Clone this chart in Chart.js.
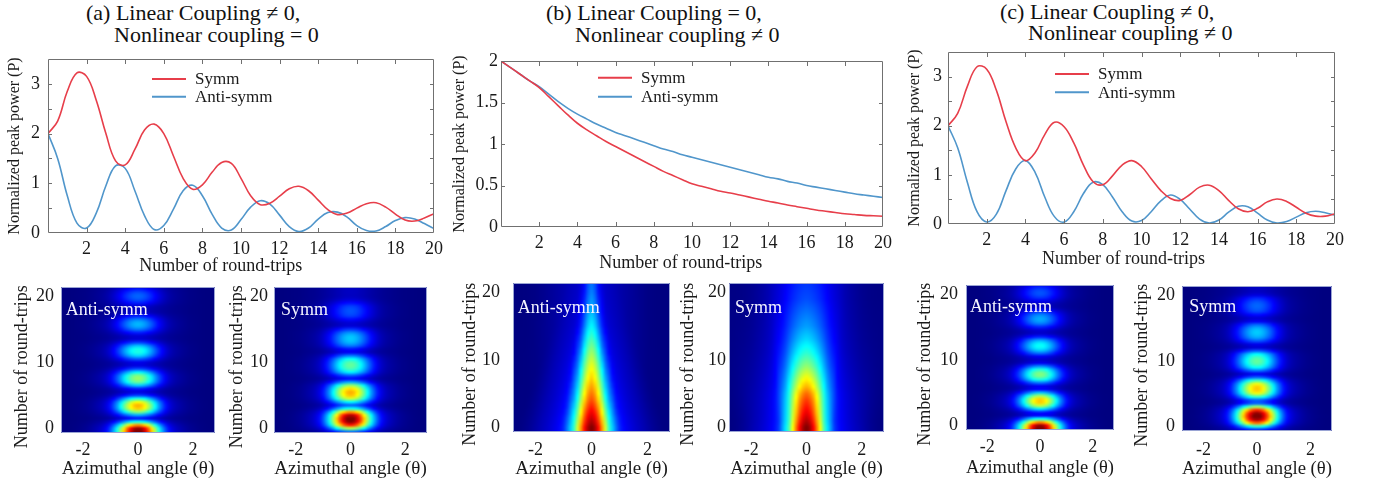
<!DOCTYPE html>
<html>
<head>
<meta charset="utf-8">
<script src="https://cdn.jsdelivr.net/npm/chart.js@4.4.0/dist/chart.umd.min.js"></script>
<style>
body{margin:0;background:#fff;width:1385px;height:487px;position:relative;overflow:hidden;font-family:"Liberation Serif","Times New Roman",serif;}
.box{position:absolute;}
.ttl{position:absolute;font-size:22px;line-height:22px;white-space:pre;color:#111;}
</style>
</head>
<body>
<div class="ttl" style="left:86px;top:2px">(a) Linear Coupling ≠ 0,</div>
<div class="ttl" style="left:114px;top:24px">Nonlinear coupling = 0</div>
<div class="ttl" style="left:546px;top:2px">(b) Linear Coupling = 0,</div>
<div class="ttl" style="left:575px;top:24px">Nonlinear coupling ≠ 0</div>
<div class="ttl" style="left:1000px;top:1px">(c) Linear Coupling ≠ 0,</div>
<div class="ttl" style="left:1028px;top:22px">Nonlinear coupling ≠ 0</div>

<div class="box" style="left:0px;top:40px;width:454px;height:237px"><canvas id="lineA"></canvas></div>
<div class="box" style="left:440px;top:40px;width:463px;height:234px"><canvas id="lineB"></canvas></div>
<div class="box" style="left:900px;top:35px;width:460px;height:235px"><canvas id="lineC"></canvas></div>

<div class="box" style="left:0px;top:261px;width:230px;height:219px"><canvas id="mapA1"></canvas></div>
<div class="box" style="left:220px;top:261px;width:222px;height:219px"><canvas id="mapA2"></canvas></div>
<div class="box" style="left:450px;top:257px;width:235px;height:223px"><canvas id="mapB1"></canvas></div>
<div class="box" style="left:672px;top:257px;width:227px;height:223px"><canvas id="mapB2"></canvas></div>
<div class="box" style="left:905px;top:259px;width:224px;height:220px"><canvas id="mapC1"></canvas></div>
<div class="box" style="left:1125px;top:260px;width:222px;height:220px"><canvas id="mapC2"></canvas></div>

<script>
// ---- peak power curves ----
const roundTrips = [0,0.5,1,1.5,2,2.5,3,3.5,4,4.5,5,5.5,6,6.5,7,7.5,8,8.5,9,9.5,10,10.5,11,11.5,12,12.5,13,13.5,14,14.5,15,15.5,16,16.5,17,17.5,18,18.5,19,19.5,20];
const symmA = [2.00,2.25,2.85,3.22,3.15,2.67,2.00,1.45,1.37,1.68,2.07,2.19,2.00,1.55,1.10,0.88,0.97,1.22,1.42,1.40,1.10,0.75,0.57,0.60,0.74,0.89,0.94,0.85,0.66,0.47,0.37,0.40,0.50,0.59,0.61,0.52,0.38,0.26,0.24,0.30,0.39];
const antiA = [2.0,1.5,0.75,0.2,0.1,0.4,0.95,1.35,1.3,0.85,0.35,0.07,0.15,0.48,0.85,0.96,0.75,0.38,0.1,0.06,0.27,0.52,0.65,0.58,0.36,0.13,0.03,0.1,0.28,0.41,0.42,0.32,0.15,0.05,0.04,0.13,0.25,0.31,0.28,0.19,0.09];
const symmB = [2.0,1.92,1.84,1.76,1.68,1.57,1.46,1.35,1.25,1.17,1.1,1.03,0.97,0.91,0.85,0.79,0.73,0.67,0.62,0.57,0.52,0.49,0.46,0.43,0.41,0.385,0.36,0.335,0.31,0.29,0.265,0.245,0.225,0.205,0.19,0.175,0.16,0.15,0.14,0.135,0.13];
const antiB = [2.0,1.92,1.84,1.76,1.69,1.6,1.51,1.43,1.36,1.3,1.24,1.19,1.14,1.1,1.06,1.02,0.98,0.94,0.91,0.87,0.84,0.81,0.78,0.75,0.72,0.69,0.66,0.63,0.6,0.58,0.55,0.53,0.5,0.48,0.46,0.44,0.42,0.4,0.385,0.37,0.355];
const symmC = [2.0,2.25,2.8,3.2,3.15,2.72,2.08,1.55,1.29,1.45,1.82,2.07,1.98,1.65,1.2,0.86,0.8,0.98,1.2,1.29,1.17,0.92,0.68,0.52,0.48,0.6,0.75,0.79,0.68,0.48,0.31,0.25,0.32,0.45,0.51,0.46,0.34,0.22,0.16,0.16,0.21];
const antiC = [2.0,1.55,0.85,0.25,0.04,0.2,0.68,1.12,1.29,1.05,0.55,0.15,0.04,0.25,0.62,0.85,0.8,0.55,0.25,0.06,0.07,0.25,0.47,0.59,0.5,0.3,0.1,0.02,0.08,0.24,0.36,0.35,0.22,0.08,0.02,0.05,0.14,0.23,0.26,0.23,0.18];

const seriesNames = ['Symm', 'Anti-symm'];
const tripTicksX = [0,2,4,6,8,10,12,14,16,18,20];
const powerTicksAC = [0,0.5,1,1.5,2,2.5,3,3.5];
const powerTicksB = [0,0.5,1,1.5,2];
const xTitle = 'Number of round-trips';
const yTitle = 'Normalized peak power (P)';

// ---- intensity maps (bottom row) ----
const mapRows = [-0.5,0,0.5,1,1.5,2,2.5,3,3.5,4,4.5,5,5.5,6,6.5,7,7.5,8,8.5,9,9.5,10,10.5,11,11.5,12,12.5,13,13.5,14,14.5,15,15.5,16,16.5,17,17.5,18,18.5,19,19.5,20,20.5,21,21.5];
const mapCols = [-2.75,-2.625,-2.5,-2.375,-2.25,-2.125,-2,-1.875,-1.75,-1.625,-1.5,-1.375,-1.25,-1.125,-1,-0.875,-0.75,-0.625,-0.5,-0.375,-0.25,-0.125,0,0.125,0.25,0.375,0.5,0.625,0.75,0.875,1,1.125,1.25,1.375,1.5,1.625,1.75,1.875,2,2.125,2.25,2.375,2.5,2.625,2.75];
const angleTicks = [-2,0,2];
const tripTicksY = [0,10,20];

// colour level of the core at theta = 0, one value per row
const heatA_anti = [1.0,0.95,0.71,0.37,0.12,0.27,0.49,0.65,0.675,0.59,0.38,0.16,0.07,0.13,0.3,0.45,0.5,0.47,0.34,0.17,0.07,0.08,0.19,0.31,0.375,0.37,0.29,0.16,0.06,0.06,0.13,0.22,0.275,0.275,0.22,0.13,0.05,0.04,0.06,0.13,0.18,0.2,0.18,0.13,0.06];
const heatA_symm = [0.22,0.53,0.83,0.97,0.995,0.92,0.7,0.37,0.2,0.35,0.56,0.66,0.68,0.63,0.5,0.27,0.11,0.19,0.34,0.42,0.45,0.43,0.36,0.22,0.09,0.12,0.22,0.28,0.3,0.29,0.24,0.15,0.06,0.06,0.11,0.16,0.18,0.18,0.16,0.11,0.06,0.04,0.04,0.04,0.04];
const heatB_anti = [0.94,0.94,0.915,0.89,0.865,0.84,0.815,0.79,0.765,0.74,0.72,0.7,0.68,0.66,0.64,0.62,0.6,0.585,0.565,0.55,0.53,0.51,0.49,0.47,0.45,0.43,0.41,0.39,0.37,0.35,0.33,0.31,0.295,0.28,0.265,0.25,0.24,0.23,0.22,0.21,0.2,0.19,0.185,0.18,0.175];
const heatB_symm = [0.93,0.93,0.905,0.88,0.855,0.83,0.81,0.79,0.77,0.75,0.725,0.7,0.665,0.63,0.6,0.57,0.54,0.51,0.48,0.45,0.425,0.4,0.375,0.35,0.33,0.31,0.29,0.27,0.255,0.24,0.225,0.21,0.2,0.19,0.18,0.17,0.16,0.15,0.14,0.13,0.125,0.12,0.115,0.11,0.105];
const heatC_anti = [1.0,0.95,0.71,0.37,0.1,0.13,0.33,0.54,0.65,0.645,0.51,0.29,0.1,0.09,0.22,0.38,0.47,0.47,0.39,0.24,0.085,0.05,0.09,0.21,0.31,0.36,0.34,0.26,0.13,0.05,0.06,0.135,0.22,0.265,0.26,0.21,0.12,0.045,0.045,0.09,0.15,0.18,0.175,0.14,0.08];
const heatC_symm = [0.15,0.4,0.74,0.93,1.0,0.96,0.81,0.5,0.2,0.2,0.4,0.58,0.65,0.65,0.58,0.41,0.19,0.09,0.22,0.36,0.43,0.45,0.42,0.35,0.19,0.06,0.08,0.18,0.26,0.295,0.3,0.27,0.2,0.09,0.06,0.11,0.17,0.195,0.2,0.18,0.14,0.07,0.04,0.04,0.04];
// core width per row for (b)
const widthB_anti = [0.95,0.95,0.94,0.93,0.92,0.9,0.89,0.87,0.86,0.84,0.83,0.81,0.8,0.78,0.77,0.75,0.74,0.72,0.71,0.69,0.68,0.66,0.65,0.63,0.62,0.6,0.59,0.57,0.56,0.54,0.53,0.51,0.5,0.49,0.48,0.47,0.46,0.45,0.44,0.43,0.42,0.41,0.4,0.4,0.4];
const widthB_symm = [1,1,1,1,1.01,1.02,1.03,1.04,1.05,1.06,1.07,1.08,1.09,1.1,1.11,1.12,1.13,1.14,1.15,1.16,1.17,1.18,1.19,1.2,1.21,1.22,1.23,1.24,1.25,1.26,1.27,1.28,1.29,1.3,1.31,1.32,1.33,1.34,1.35,1.36,1.37,1.38,1.39,1.4,1.4];
// broad pedestal level per row for (b)
const pedestalB_anti = [0.06,0.06,0.06,0.06,0.06,0.06,0.06,0.06,0.06,0.06,0.06,0.06,0.06,0.06,0.06,0.06,0.06,0.06,0.06,0.06,0.06,0.06,0.06,0.06,0.06,0.06,0.06,0.06,0.06,0.06,0.06,0.06,0.06,0.06,0.06,0.06,0.06,0.06,0.06,0.06,0.06,0.06,0.06,0.06,0.06];
const pedestalB_symm = [0.07,0.07,0.07,0.07,0.07,0.07,0.07,0.07,0.07,0.07,0.07,0.07,0.07,0.07,0.07,0.07,0.07,0.07,0.07,0.07,0.07,0.07,0.07,0.07,0.07,0.07,0.07,0.07,0.07,0.07,0.07,0.07,0.07,0.07,0.07,0.07,0.07,0.07,0.07,0.07,0.07,0.07,0.07,0.07,0.07];
const pedestalAC = [1,1,1,1,1,1,1,1,1,1,1,1,1,1,1,1,1,1,1,1,1,1,1,1,1,1,1,1,1,1,1,1,1,1,1,1,1,1,1,1,1,1,1,1,1];
// angular fall-off of the core and of the pedestal, by |theta| step
const profileAC = [1,0.974,0.9,0.79,0.66,0.52,0.39,0.28,0.19,0.125,0.085,0.06,0.045,0.033,0.024,0.017,0.012,0.008,0.005,0.003,0.002,0.001,0];
const profileB = [1.0,0.96,0.87,0.74,0.59,0.43,0.32,0.24,0.15,0.11,0.09,0.078,0.068,0.06,0.053,0.047,0.04,0.032,0.024,0.017,0.011,0.006,0.003];
const haloAC = [0.025,0.025,0.025,0.024,0.024,0.023,0.022,0.021,0.019,0.017,0.015,0.013,0.011,0.009,0.007,0.005,0.004,0.003,0.002,0.001,0,0,0];
const haloB = [1,1,0.98,0.95,0.92,0.87,0.82,0.76,0.69,0.62,0.54,0.46,0.38,0.3,0.23,0.16,0.1,0.06,0.03,0.01,0,0,0];

const serif = '"Liberation Serif", "Times New Roman", serif';
const ink = '#1a1a1a';
const redLine = 'rgb(231,62,74)';
const blueLine = 'rgb(80,150,203)';

function jet(v){
    v = Math.max(0, Math.min(1, v));
    const c = t => Math.round(255 * Math.max(0, Math.min(1, t)));
    return [c(1.5 - Math.abs(4*v - 3)), c(1.5 - Math.abs(4*v - 2)), c(1.5 - Math.abs(4*v - 1))];
}

// read a fall-off table at a fractional step
function sampleAt(table, t){
    const last = table.length - 1;
    if (t >= last) return table[last];
    const j = Math.floor(t), f = t - j;
    return table[j] * (1 - f) + table[j + 1] * f;
}

const framePlugin = {
    id: 'frame',
    afterDatasetsDraw(chart, args, o){
        const ctx = chart.ctx, a = chart.chartArea, x = chart.scales.x, y = chart.scales.y;
        ctx.save();
        ctx.strokeStyle = o.color;
        ctx.lineWidth = 1;
        ctx.beginPath();
        if (o.ticks){
            x.ticks.forEach(t => {
                if (t.value <= x.min || t.value >= x.max) return;
                const px = Math.round(x.getPixelForValue(t.value)) + 0.5;
                ctx.moveTo(px, a.bottom); ctx.lineTo(px, a.bottom - 5);
                ctx.moveTo(px, a.top); ctx.lineTo(px, a.top + 5);
            });
            y.ticks.forEach(t => {
                if (t.value <= y.min || t.value >= y.max) return;
                const py = Math.round(y.getPixelForValue(t.value)) + 0.5;
                ctx.moveTo(a.left, py); ctx.lineTo(a.left + 4, py);
                ctx.moveTo(a.right, py); ctx.lineTo(a.right - 4, py);
            });
        }
        ctx.rect(Math.round(a.left) + 0.5, Math.round(a.top) + 0.5, Math.round(a.width) - 1, Math.round(a.height) - 1);
        ctx.stroke();
        ctx.restore();
    }
};

const legendPlugin = {
    id: 'boxLegend',
    afterDatasetsDraw(chart, args, o){
        const ctx = chart.ctx, a = chart.chartArea;
        ctx.save();
        ctx.font = '17px ' + serif;
        ctx.textBaseline = 'middle';
        chart.data.datasets.forEach((ds, i) => {
            const y = a.top + o.dy + i * o.gap;
            const x = a.left + o.dx;
            ctx.strokeStyle = ds.borderColor;
            ctx.lineWidth = 2;
            ctx.beginPath(); ctx.moveTo(x, y); ctx.lineTo(x + 34, y); ctx.stroke();
            ctx.fillStyle = ink;
            ctx.fillText(ds.label, x + 43, y + 1);
        });
        ctx.restore();
    }
};

function points(vals){
    return roundTrips.map((x, i) => ({x: x, y: vals[i]}));
}

function lineChart(id, symm, anti, cfg){
    new Chart(id, {
        type: 'line',
        data: {
            datasets: [
                {label: seriesNames[0], data: points(symm), borderColor: redLine},
                {label: seriesNames[1], data: points(anti), borderColor: blueLine}
            ]
        },
        options: {
            responsive: true, maintainAspectRatio: false, animation: false,
            layout: {padding: {top: cfg.padTop, right: cfg.padRight, left: 0, bottom: 0}},
            elements: {point: {radius: 0}, line: {borderWidth: 1.6, tension: 0.4, fill: false}},
            plugins: {
                legend: {display: false}, tooltip: {enabled: false},
                frame: {color: '#707070', ticks: true},
                boxLegend: cfg.legend
            },
            scales: {
                x: {
                    type: 'linear', min: 0, max: 20,
                    grid: {display: false, drawTicks: false}, border: {display: false},
                    afterBuildTicks: s => { s.ticks = tripTicksX.map(v => ({value: v})); },
                    afterFit: s => { s.height = cfg.xh; },
                    ticks: {padding: 5, color: ink, autoSkip: false, maxRotation: 0, font: {family: serif, size: 18},
                            callback: v => v === 0 ? '' : String(v)},
                    title: {display: true, text: xTitle + ' '.repeat(cfg.xShift), color: ink,
                            font: {family: serif, size: 18}, padding: {top: 0, bottom: 0}}
                },
                y: {
                    type: 'linear', min: 0, max: cfg.yMax,
                    grid: {display: false, drawTicks: false}, border: {display: false},
                    afterBuildTicks: s => { s.ticks = cfg.yTicks.map(v => ({value: v})); },
                    afterFit: s => { s.width = cfg.yw; },
                    ticks: {padding: cfg.yPad, color: ink, autoSkip: false, font: {family: serif, size: 18}, callback: cfg.yLabel},
                    title: {display: true, text: yTitle, color: ink, font: {family: serif, size: 16},
                            padding: {top: cfg.yTitlePad, bottom: 0}}
                }
            }
        },
        plugins: [framePlugin, legendPlugin]
    });
}

const wholeOnly = v => Number.isInteger(v) ? String(v) : '';

lineChart('lineA', symmA, antiA, {padTop: 19, padRight: 20, xh: 44, yw: 48, yPad: 8, yTitlePad: 5.5, xShift: 9,
    yMax: 3.5, yTicks: powerTicksAC, yLabel: wholeOnly, legend: {dx: 104, dy: 20, gap: 17.7}});
lineChart('lineB', symmB, antiB, {padTop: 21, padRight: 20, xh: 47, yw: 61, yPad: 3, yTitlePad: 10.5, xShift: 5,
    yMax: 2, yTicks: powerTicksB, yLabel: v => String(v), legend: {dx: 97, dy: 16.7, gap: 19}});
lineChart('lineC', symmC, antiC, {padTop: 17, padRight: 25, xh: 46, yw: 48, yPad: 6, yTitlePad: 5.5, xShift: 8,
    yMax: 3.5, yTicks: powerTicksAC, yLabel: wholeOnly, legend: {dx: 107, dy: 22, gap: 18.3}});

// ---- maps ----
const heatInfo = {
    mapA1: {center: heatA_anti, width: null, pedestal: pedestalAC, profile: profileAC, halo: haloAC, name: seriesNames[1], lx: 4.7, ly: 23.7},
    mapA2: {center: heatA_symm, width: null, pedestal: pedestalAC, profile: profileAC, halo: haloAC, name: seriesNames[0], lx: 7, ly: 23.7},
    mapB1: {center: heatB_anti, width: widthB_anti, pedestal: pedestalB_anti, profile: profileB, halo: haloB, name: seriesNames[1], lx: 4.7, ly: 25.3},
    mapB2: {center: heatB_symm, width: widthB_symm, pedestal: pedestalB_symm, profile: profileB, halo: haloB, name: seriesNames[0], lx: 6, ly: 25.3},
    mapC1: {center: heatC_anti, width: null, pedestal: pedestalAC, profile: profileAC, halo: haloAC, name: seriesNames[1], lx: 4, ly: 22.3},
    mapC2: {center: heatC_symm, width: null, pedestal: pedestalAC, profile: profileAC, halo: haloAC, name: seriesNames[0], lx: 7.3, ly: 21.3}
};

const heatPlugin = {
    id: 'heat',
    beforeDatasetsDraw(chart){
        const info = heatInfo[chart.canvas.id];
        const ctx = chart.ctx, a = chart.chartArea, xs = chart.scales.x, ys = chart.scales.y;
        const nr = mapRows.length, nc = mapCols.length, mid = (nc - 1) / 2;
        const off = document.createElement('canvas');
        off.width = nc; off.height = nr;
        const octx = off.getContext('2d');
        const img = octx.createImageData(nc, nr);
        for (let r = 0; r < nr; r++){
            const w = info.width ? info.width[r] : 1;
            for (let c = 0; c < nc; c++){
                const d = Math.abs(c - mid);
                const v = info.center[r] * sampleAt(info.profile, d / w) + info.pedestal[r] * sampleAt(info.halo, d);
                const rgb = jet(v);
                const p = ((nr - 1 - r) * nc + c) * 4;
                img.data[p] = rgb[0]; img.data[p+1] = rgb[1]; img.data[p+2] = rgb[2]; img.data[p+3] = 255;
            }
        }
        octx.putImageData(img, 0, 0);
        const hx = (mapCols[1] - mapCols[0]) / 2, hy = (mapRows[1] - mapRows[0]) / 2;
        const x0 = xs.getPixelForValue(mapCols[0] - hx), x1 = xs.getPixelForValue(mapCols[nc-1] + hx);
        const y0 = ys.getPixelForValue(mapRows[nr-1] + hy), y1 = ys.getPixelForValue(mapRows[0] - hy);
        ctx.save();
        ctx.fillStyle = 'rgb(0,0,128)';
        ctx.fillRect(a.left, a.top, a.width, a.height);
        ctx.beginPath(); ctx.rect(a.left, a.top, a.width, a.height); ctx.clip();
        ctx.imageSmoothingEnabled = true;
        ctx.imageSmoothingQuality = 'high';
        ctx.drawImage(off, x0, y0, x1 - x0, y1 - y0);
        ctx.restore();
    },
    afterDatasetsDraw(chart){
        const info = heatInfo[chart.canvas.id];
        const ctx = chart.ctx, a = chart.chartArea;
        ctx.save();
        ctx.font = '18px ' + serif;
        ctx.fillStyle = '#f4f4ff';
        ctx.textBaseline = 'middle';
        ctx.fillText(info.name, a.left + info.lx, a.top + info.ly);
        ctx.restore();
    }
};

function mapChart(id, cfg){
    new Chart(id, {
        type: 'scatter',
        data: {datasets: [{data: []}]},
        options: {
            responsive: true, maintainAspectRatio: false, animation: false,
            layout: {padding: {top: 26, right: 15, left: 0, bottom: 0}},
            plugins: {legend: {display: false}, tooltip: {enabled: false}, frame: {color: '#9aa4d4', ticks: false}},
            scales: {
                x: {
                    type: 'linear', min: -2.8, max: 2.8,
                    grid: {display: false, drawTicks: false}, border: {display: false},
                    afterBuildTicks: s => { s.ticks = angleTicks.map(v => ({value: v})); },
                    afterFit: s => { s.height = cfg.xh; },
                    ticks: {padding: cfg.xPad, color: ink, autoSkip: false, maxRotation: 0, font: {family: serif, size: 18},
                            callback: v => String(v)},
                    title: {display: true, text: 'Azimuthal angle (θ)', color: ink, font: {family: serif, size: 19},
                            padding: {top: 0, bottom: 0}}
                },
                y: {
                    type: 'linear', min: -0.7, max: 21.4,
                    grid: {display: false, drawTicks: false}, border: {display: false},
                    afterBuildTicks: s => { s.ticks = tripTicksY.map(v => ({value: v})); },
                    afterFit: s => { s.width = cfg.yw; },
                    ticks: {padding: cfg.yPad, color: ink, autoSkip: false, font: {family: serif, size: 18},
                            callback: v => String(v)},
                    title: {display: true, text: xTitle + '   ', color: ink, font: {family: serif, size: 18},
                            padding: {top: cfg.yTitlePad, bottom: 0}}
                }
            }
        },
        plugins: [heatPlugin, framePlugin]
    });
}

mapChart('mapA1', {xh: 47, xPad: 6, yw: 61, yPad: 7, yTitlePad: 11});
mapChart('mapA2', {xh: 47, xPad: 6, yw: 54, yPad: 6, yTitlePad: 6});
mapChart('mapB1', {xh: 48, xPad: 7, yw: 63, yPad: 13, yTitlePad: 9.3});
mapChart('mapB2', {xh: 48, xPad: 7, yw: 57, yPad: 3, yTitlePad: 5.6});
mapChart('mapC1', {xh: 49, xPad: 6, yw: 61, yPad: 8, yTitlePad: 9.3});
mapChart('mapC2', {xh: 49, xPad: 8, yw: 57, yPad: 7, yTitlePad: 6});
</script>
</body>
</html>
